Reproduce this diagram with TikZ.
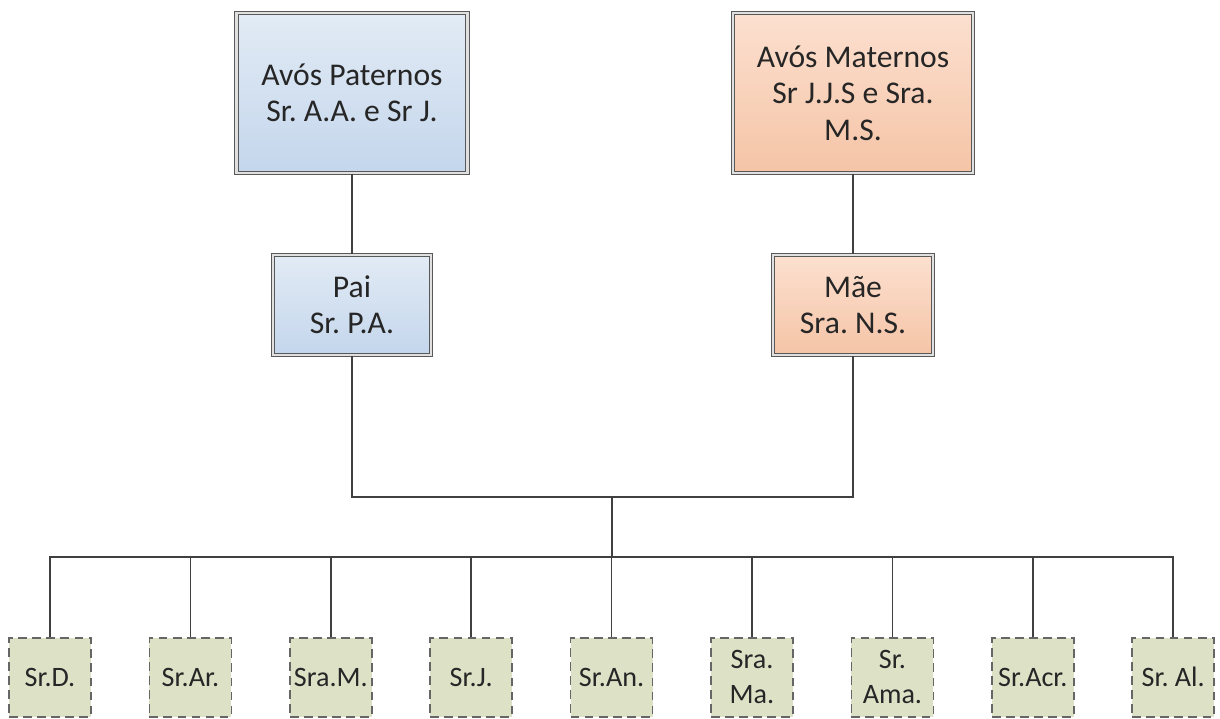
\documentclass[tikz,border=0pt]{standalone}
\usepackage{fontspec}
\setmainfont{Carlito}
\frenchspacing

\definecolor{azulTopo}{RGB}{226,235,245}
\definecolor{azulBase}{RGB}{196,214,236}
\definecolor{salmaoTopo}{RGB}{252,224,208}
\definecolor{salmaoBase}{RGB}{245,196,166}
\definecolor{filhoCor}{RGB}{221,226,199}
\definecolor{linhaCor}{RGB}{64,64,64}

\tikzset{
    caixa/.style={draw=black!65, double=black!12, double distance=1.3pt, line width=0.7pt,
        align=center, font=\fontsize{18}{20.7}\selectfont, text=black!85, inner sep=2pt},
    azul/.style={caixa, top color=azulTopo, bottom color=azulBase},
    salmao/.style={caixa, top color=salmaoTopo, bottom color=salmaoBase},
    filho/.style={draw=black!60, fill=filhoCor, dash pattern=on 5pt off 3pt, line width=0.9pt,
        align=center, font=\fontsize{16}{19.9}\selectfont, text=black!85, inner sep=1pt,
        minimum width=1.64cm, minimum height=1.58cm, anchor=north},
    ligacao/.style={draw=linhaCor, line width=1pt}
}

\begin{document}
\begin{tikzpicture}[x=0.02cm, y=-0.02cm]
    \useasboundingbox (0,0) rectangle (1220,718);

    % Draw the grandparents
    \node[azul, minimum width=4.62cm, minimum height=3.2cm] (avosP) at (352,93)
        {Avós Paternos\\Sr. A.A. e Sr J.};
    \node[salmao, minimum width=4.8cm, minimum height=3.2cm] (avosM) at (853,93)
        {Avós Maternos\\Sr J.J.S e Sra.\\M.S.};

    % Draw the parents
    \node[azul, minimum width=3.16cm, minimum height=2cm] (pai) at (352,305) {Pai\\Sr. P.A.};
    \node[salmao, minimum width=3.2cm, minimum height=2cm] (mae) at (853,305) {Mãe\\Sra. N.S.};

    % Draw the children
    \foreach \nome [count=\i from 0] in {Sr.D., Sr.Ar., Sra.M., Sr.J., Sr.An., Sra.\\Ma., Sr.\\Ama., Sr.Acr., Sr. Al.}
        \node[filho] (f\i) at ({50+140.4*\i},637) {\nome};

    % Connect grandparents to parents
    \draw[ligacao] (avosP) -- (pai);
    \draw[ligacao] (avosM) -- (mae);

    % Connect parents to children
    \coordinate (uniao) at (612,497);
    \coordinate (barra) at (612,557);
    \draw[ligacao] (pai.south) |- (uniao) -| (mae.south);
    \draw[ligacao] (uniao) -- (barra);
    \foreach \i in {0,...,8}
        \draw[ligacao] (barra) -| (f\i.north);

\end{tikzpicture}
\end{document}
